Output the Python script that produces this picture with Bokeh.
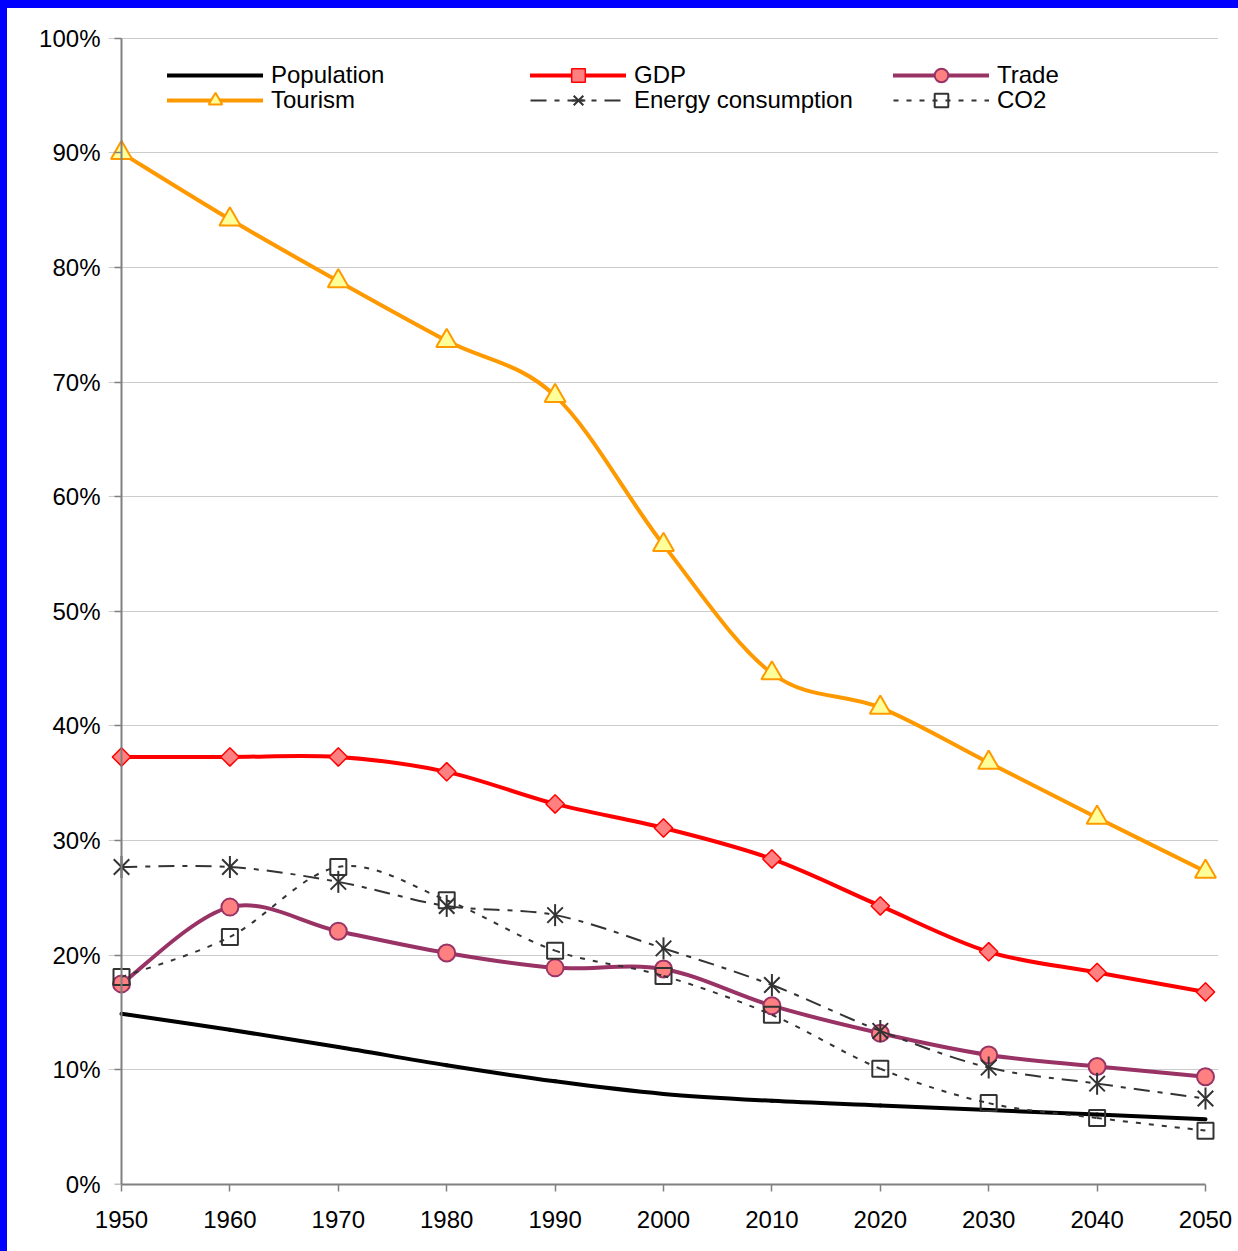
import numpy as np
from bokeh.plotting import figure
from bokeh.models import (Range1d, FixedTicker, Legend, LegendItem,
                          ColumnDataSource, LinearAxis)
from bokeh.embed import file_html
from bokeh.resources import INLINE

# ---------------- data (shares, %) ----------------
years = [1950, 1960, 1970, 1980, 1990, 2000, 2010, 2020, 2030, 2040, 2050]
population = [14.9, 13.5, 12.0, 10.4, 9.0, 7.9, 7.3, 6.9, 6.5, 6.1, 5.7]
gdp = [37.3, 37.3, 37.3, 36.0, 33.2, 31.1, 28.4, 24.3, 20.3, 18.5, 16.8]
trade = [17.5, 24.2, 22.1, 20.2, 18.9, 18.8, 15.6, 13.2, 11.3, 10.3, 9.4]
tourism = [90.0, 84.2, 78.8, 73.6, 68.8, 55.8, 44.6, 41.6, 36.8, 32.0, 27.3]
energy = [27.7, 27.7, 26.4, 24.3, 23.5, 20.6, 17.4, 13.4, 10.2, 8.8, 7.5]
co2 = [18.1, 21.6, 27.7, 24.8, 20.4, 18.2, 14.8, 10.1, 7.1, 5.8, 4.7]

x_ticks = [1950, 1960, 1970, 1980, 1990, 2000, 2010, 2020, 2030, 2040, 2050]
y_ticks = [0, 10, 20, 30, 40, 50, 60, 70, 80, 90, 100]
y_labels = ["0%", "10%", "20%", "30%", "40%", "50%", "60%", "70%", "80%", "90%", "100%"]

FONT = "Liberation Sans"


def smooth_source(xs, ys):
    """Bezier control points (Excel-like smoothed line) from the data points."""
    n = len(xs)
    d = {k: [] for k in ("x0", "y0", "x1", "y1", "cx0", "cy0", "cx1", "cy1")}
    for i in range(n - 1):
        a = max(i - 1, 0)
        b = min(i + 2, n - 1)
        d["x0"].append(xs[i]); d["y0"].append(ys[i])
        d["x1"].append(xs[i + 1]); d["y1"].append(ys[i + 1])
        d["cx0"].append(xs[i] + (xs[i + 1] - xs[a]) / 6.0)
        d["cy0"].append(ys[i] + (ys[i + 1] - ys[a]) / 6.0)
        d["cx1"].append(xs[i + 1] - (xs[b] - xs[i]) / 6.0)
        d["cy1"].append(ys[i + 1] - (ys[b] - ys[i]) / 6.0)
    return ColumnDataSource(d)


p = figure(width=1231, height=1243,
           x_range=Range1d(1948.8, 2051.2), y_range=Range1d(0, 100.5),
           output_backend="svg", toolbar_location=None,
           min_border_left=101, min_border_right=20,
           min_border_top=24, min_border_bottom=67,
           background_fill_color="white", border_fill_color="white",
           outline_line_color=None)

# x axis
xa = p.xaxis[0]
xa.ticker = FixedTicker(ticks=x_ticks)
xa.bounds = (1950, 2050)
xa.axis_line_color = "#808080"
xa.axis_line_width = 2
xa.major_tick_line_color = "#808080"
xa.major_tick_line_width = 1.5
xa.major_tick_out = 7
xa.major_tick_in = 0
xa.minor_tick_line_color = None
xa.major_label_text_font = FONT
xa.major_label_text_font_size = "24px"
xa.major_label_text_color = "black"
xa.major_label_standoff = 19

# y axis: labels (left panel)
ya = p.yaxis[0]
ya.ticker = FixedTicker(ticks=y_ticks)
ya.major_label_overrides = dict(zip(y_ticks, y_labels))
ya.axis_line_color = None
ya.major_tick_line_color = None
ya.major_tick_out = 0
ya.major_tick_in = 0
ya.minor_tick_line_color = None
ya.major_label_text_font = FONT
ya.major_label_text_font_size = "24px"
ya.major_label_text_color = "black"
ya.major_label_standoff = 8

# y axis line + ticks placed at 1950
yline = LinearAxis(ticker=FixedTicker(ticks=y_ticks), fixed_location=1950,
                   bounds=(0, 100), axis_line_color="#808080", axis_line_width=2,
                   major_tick_line_color="#808080", major_tick_line_width=1.5,
                   major_tick_in=7, major_tick_out=0, minor_tick_line_color=None,
                   major_label_overrides={t: "" for t in y_ticks},
                   major_label_text_font_size="1px", major_label_standoff=0)
p.add_layout(yline, "right")

p.xgrid.visible = False
p.ygrid.ticker = FixedTicker(ticks=y_ticks)
p.ygrid.grid_line_color = "#CCCCCC"
p.ygrid.grid_line_width = 1

series = [
    dict(name="Population", y=population, color="black", width=4, dash="solid", marker=None),
    dict(name="GDP", y=gdp, color="#FF0000", width=4, dash="solid",
         marker=dict(marker="square", size=13, angle=np.pi / 4, fill_color="#FF8080",
                     line_color="#FF0000", line_width=1.5)),
    dict(name="Trade", y=trade, color="#993366", width=4, dash="solid",
         marker=dict(marker="circle", size=17, fill_color="#FF8080",
                     line_color="#993366", line_width=2)),
    dict(name="Tourism", y=tourism, color="#FF9900", width=4, dash="solid",
         marker=dict(marker="triangle", size=21, fill_color="#FFFF99",
                     line_color="#FF9900", line_width=2)),
    dict(name="Energy consumption", y=energy, color="#333333", width=2, dash="16 8 5 8",
         marker=dict(marker="x", size=22, line_color="#333333", line_width=2)),
    dict(name="CO2", y=co2, color="#333333", width=2, dash="5 8",
         marker=dict(marker="square", size=16, fill_alpha=0,
                     line_color="#333333", line_width=2)),
]

renderers = {}
for s in series:
    src = smooth_source(years, s["y"])
    rl = p.bezier(x0="x0", y0="y0", x1="x1", y1="y1", cx0="cx0", cy0="cy0",
                  cx1="cx1", cy1="cy1", source=src, line_color=s["color"],
                  line_width=s["width"], line_dash=s["dash"],
                  line_cap="round" if s["dash"] == "solid" else "butt")
    rs = [rl]
    if s["marker"] is not None:
        rs.append(p.scatter(x=years, y=s["y"], **s["marker"]))
        if s["name"] == "Energy consumption":
            # vertical bar of the star marker
            rs.append(p.scatter(x=years, y=s["y"], marker="dash", size=22,
                                angle=np.pi / 2, line_color="#333333", line_width=2))
    renderers[s["name"]] = rs

# legend: 3 columns x 2 rows, each entry placed on its own
cells = [
    ("Population", 59, 1092), ("GDP", 422, 1092), ("Trade", 785, 1092),
    ("Tourism", 59, 1067), ("Energy consumption", 422, 1067), ("CO2", 785, 1067),
]
for name, xoff, yoff in cells:
    leg = Legend(items=[LegendItem(label=name, renderers=renderers[name])],
                 location=(xoff, yoff), orientation="vertical",
                 glyph_width=96, glyph_height=34, label_height=26,
                 label_standoff=8, spacing=0, padding=0, margin=0,
                 border_line_alpha=0, background_fill_alpha=0,
                 label_text_font=FONT, label_text_font_size="24px",
                 label_text_color="black")
    p.add_layout(leg)

html = file_html(p, INLINE, title="Shares")
style = ("<style>html,body{margin:0!important;padding:0!important;overflow:hidden!important;"
         "background:#ffffff;}body{border-top:8px solid #0000FF!important;"
         "border-left:7px solid #0000FF!important;}</style>")
html = html.replace("</head>", style + "</head>", 1)
open("out.html", "w").write(html)
